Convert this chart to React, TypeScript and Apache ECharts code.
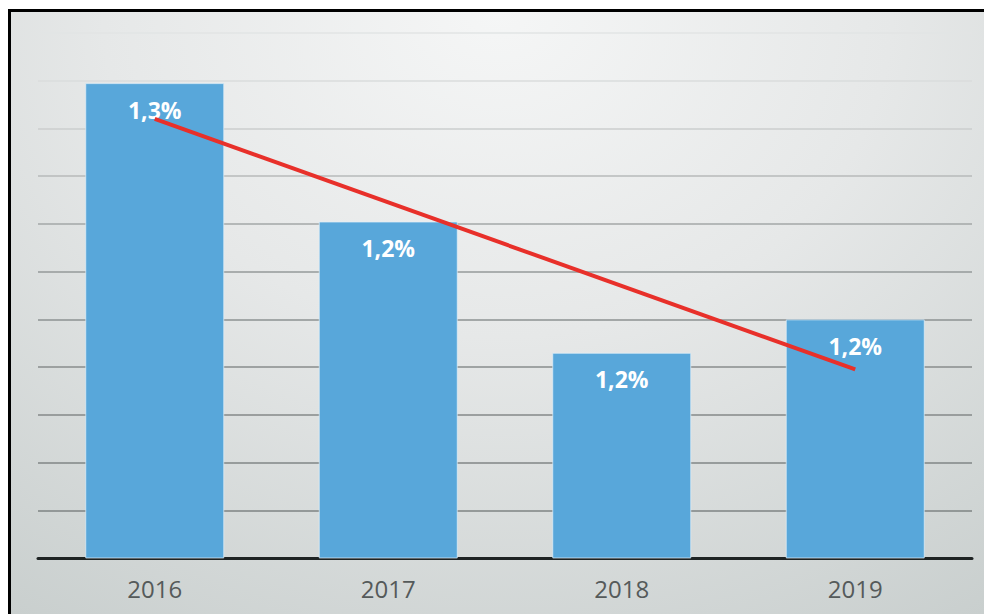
import React, { useEffect, useRef } from "react";
import * as echarts from "echarts";

const categories = ["2016", "2017", "2018", "2019"];
const values = [1.299, 1.241, 1.186, 1.2];
const trendValues: (number | string)[] = [1.284, "-", "-", 1.179];
const yMin = 1.1;
const yMax = 1.32;
const yStep = 0.02;

const gridColors = [
  "#7a7f7f", "#7e8383", "#818686", "#848989", "#888d8d", "#8d9292",
  "#959a9a", "#a3a7a7", "#b7baba", "#cbcece", "#dadddd", "#e2e4e4",
];

export default function App() {
  const ref = useRef<HTMLDivElement>(null);
  useEffect(() => {
    if (!ref.current) return;
    const chart = echarts.init(ref.current, undefined, { renderer: "svg" });
    chart.setOption({
      animation: false,
      backgroundColor: "transparent",
      grid: { left: 38, right: 12, top: 33, bottom: 56, containLabel: false },
      xAxis: {
        type: "category",
        data: categories,
        axisLine: { show: true, lineStyle: { color: "#1e2323", width: 3 } },
        axisTick: { show: false },
        axisLabel: {
          color: "#555a5a",
          fontSize: 24,
          fontFamily: "Open Sans",
          margin: 18,
        },
        splitLine: { show: false },
      },
      yAxis: {
        type: "value",
        min: yMin,
        max: yMax,
        interval: yStep,
        axisLine: { show: false },
        axisTick: { show: false },
        axisLabel: { show: false },
        splitLine: { show: true, lineStyle: { color: gridColors, width: 1.6 } },
      },
      series: [
        {
          type: "bar",
          data: values,
          barWidth: 139,
          itemStyle: {
            color: "#58a7da",
            borderColor: "rgba(225,240,250,0.7)",
            borderWidth: 1,
          },
          label: {
            show: true,
            position: "insideTop",
            distance: 15,
            color: "#ffffff",
            fontSize: 23,
            fontWeight: "bold",
            fontFamily: "Open Sans",
            formatter: (p: any) => p.value.toFixed(1).replace(".", ",") + "%",
          },
          z: 2,
        },
        {
          type: "line",
          data: trendValues,
          connectNulls: true,
          symbol: "none",
          lineStyle: { color: "#e8302a", width: 4 },
          z: 5,
        },
      ],
    });
    return () => chart.dispose();
  }, []);
  return (
    <div style={{ position: "fixed", left: 0, top: 0, width: 984, height: 614, background: "#ffffff" }}>
      <div
        style={{
          position: "absolute",
          left: 8,
          top: 9,
          right: 0,
          bottom: 0,
          borderLeft: "3px solid #000",
          borderTop: "3px solid #000",
          background:
            "radial-gradient(ellipse 90% 120% at 50% 0%, #f5f6f6 0%, #e6e8e8 45%, #c9cfce 100%)",
        }}
      />
      <div ref={ref} style={{ position: "absolute", left: 0, top: 0, width: 984, height: 614 }} />
    </div>
  );
}
